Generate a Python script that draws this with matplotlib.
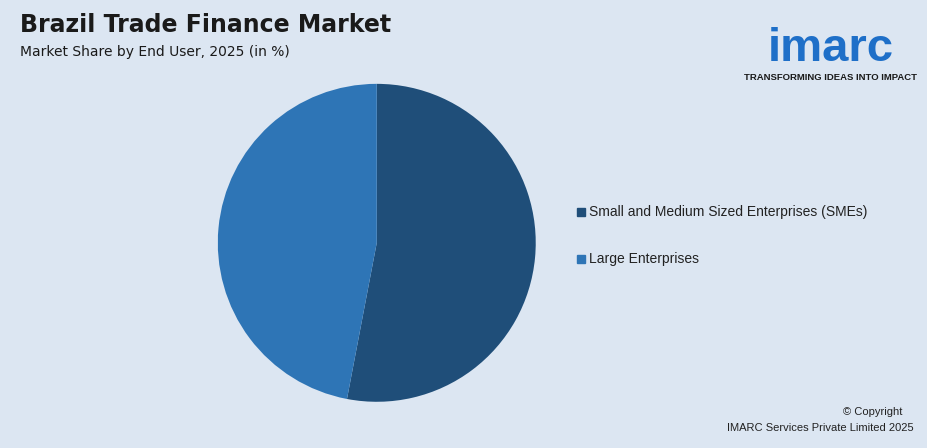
import matplotlib.pyplot as plt
from matplotlib.patches import Rectangle

plt.rcParams['font.family'] = ['Liberation Sans', 'DejaVu Sans']

# data
labels = ["Small and Medium Sized Enterprises (SMEs)", "Large Enterprises"]
shares = [53, 47]
colors = ["#1f4e79", "#2e75b6"]

BG = "#dce6f2"

fig = plt.figure(figsize=(9.28, 4.48), dpi=100)
fig.patch.set_facecolor(BG)

# pie centred at (377, 243) px, radius ~159 px
ax = fig.add_axes([0.406 - 0.1713, 0.458 - 0.355, 0.3426, 0.71])
ax.pie(shares, colors=colors, startangle=90, counterclock=False,
       wedgeprops=dict(linewidth=0), radius=1)
ax.set_xlim(-1, 1)
ax.set_ylim(-1, 1)
ax.set_aspect("equal")
ax.set_facecolor(BG)

# titles
fig.text(0.022, 0.945, "Brazil Trade Finance Market", fontsize=17,
         fontweight="bold", color="#1a1a1a", va="center", family="DejaVu Sans")
fig.text(0.022, 0.885, "Market Share by End User, 2025 (in %)", fontsize=10,
         color="#1a1a1a", va="center", family="DejaVu Sans")

# legend
for i, (lab, c) in enumerate(zip(labels, colors)):
    y = (448 - 212 - i * 47) / 448
    fig.patches.append(Rectangle((577 / 928, y - 0.009), 0.0085, 0.0175,
                                 transform=fig.transFigure, color=c))
    fig.text(589 / 928, y, lab, fontsize=10, color="#222222", va="center")

# logo
fig.text(0.895, 0.89, "imarc", fontsize=34, fontweight="bold",
         color="#1e6fc8", ha="center", va="center")
fig.text(0.895, 0.827, "TRANSFORMING IDEAS INTO IMPACT", fontsize=6.8,
         fontweight="bold", color="#1a1a1a", ha="center", va="center")

# copyright
fig.text(0.94, 0.08, "© Copyright", fontsize=8, color="#222222",
         ha="center", va="center")
fig.text(0.985, 0.045, "IMARC Services Private Limited 2025", fontsize=8,
         color="#222222", ha="right", va="center")
fig.savefig("out.png", dpi=100, facecolor=BG)
